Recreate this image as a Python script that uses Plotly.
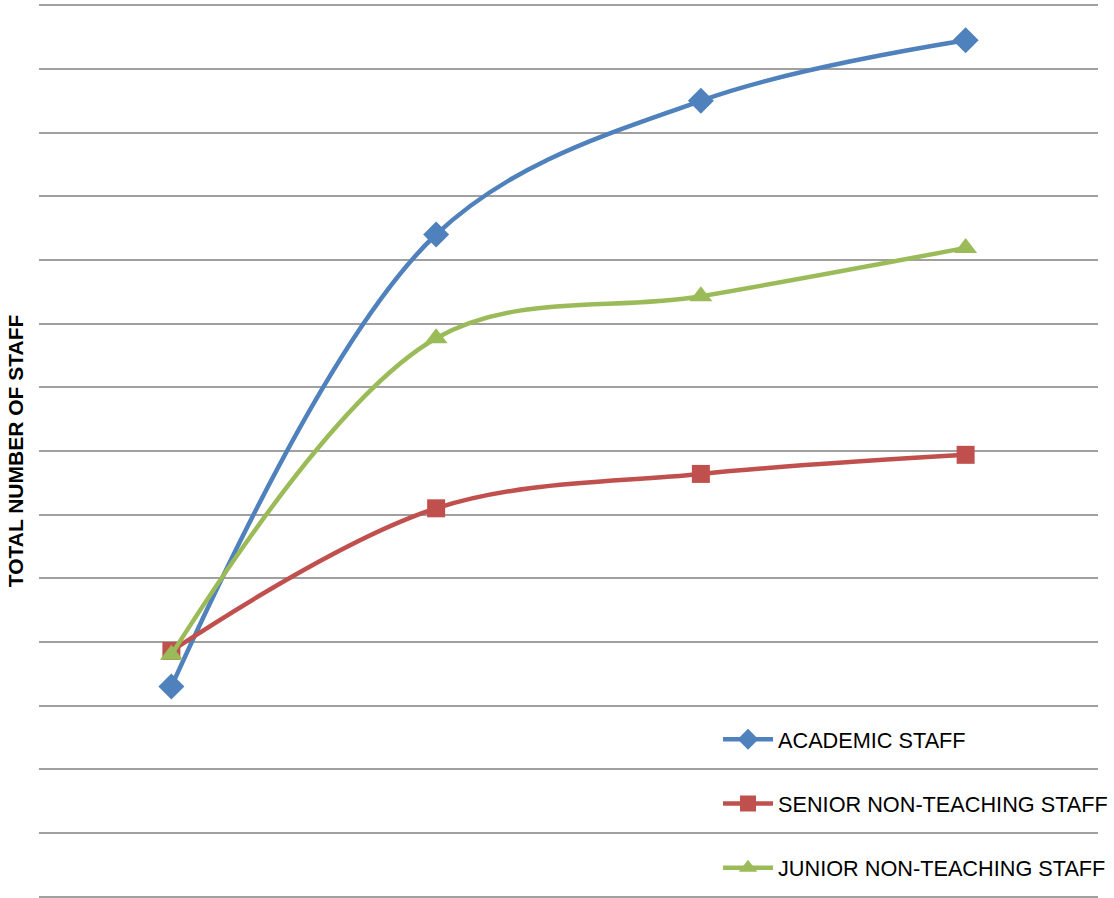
import plotly.graph_objects as go

# Four reporting periods along the x axis (no tick labels shown)
periods = [0, 1, 2, 3]

academic_staff = [33, 104, 125, 134.5]
senior_non_teaching = [38.6, 61, 66.4, 69.4]
junior_non_teaching = [38, 87.7, 94.3, 101.9]

series = [
    ("ACADEMIC STAFF", academic_staff, "#4F81BD", "diamond", 20),
    ("SENIOR NON-TEACHING STAFF", senior_non_teaching, "#C0504D", "square", 18),
    ("JUNIOR NON-TEACHING STAFF", junior_non_teaching, "#9BBB59", "triangle-up", 20),
]

fig = go.Figure()
for i, (name, vals, color, symbol, size) in enumerate(series):
    fig.add_trace(go.Scatter(
        x=periods, y=vals, name=name, mode="lines+markers",
        line=dict(color=color, width=4.5, shape="spline", smoothing=1.0),
        marker=dict(symbol=symbol, size=size, color=color),
        legendgroup=f"g{i}",
    ))

fig.update_layout(
    width=1114, height=898,
    margin=dict(l=39, r=16, t=4, b=0, autoexpand=False),
    plot_bgcolor="white", paper_bgcolor="white",
    font=dict(family="Liberation Sans, Arial, sans-serif", color="black"),
    showlegend=True,
    legend=dict(
        x=0.6412, y=0.2006, xanchor="left", yanchor="top",
        font=dict(size=21.7), bgcolor="rgba(0,0,0,0)",
        tracegroupgap=33, traceorder="grouped", itemwidth=50,
    ),
)
fig.update_xaxes(range=[-0.5, 3.5], showgrid=False, showticklabels=False,
                 zeroline=False, showline=False, ticks="")
fig.update_yaxes(range=[-0.2, 140.2], dtick=10, showgrid=True, gridcolor="#A0A0A0",
                 gridwidth=1.6, zeroline=False, showline=False, showticklabels=False,
                 ticks="",
                 title=dict(text="<b>TOTAL NUMBER OF STAFF</b>", font=dict(size=21), standoff=8))

fig.write_html("out.html")
